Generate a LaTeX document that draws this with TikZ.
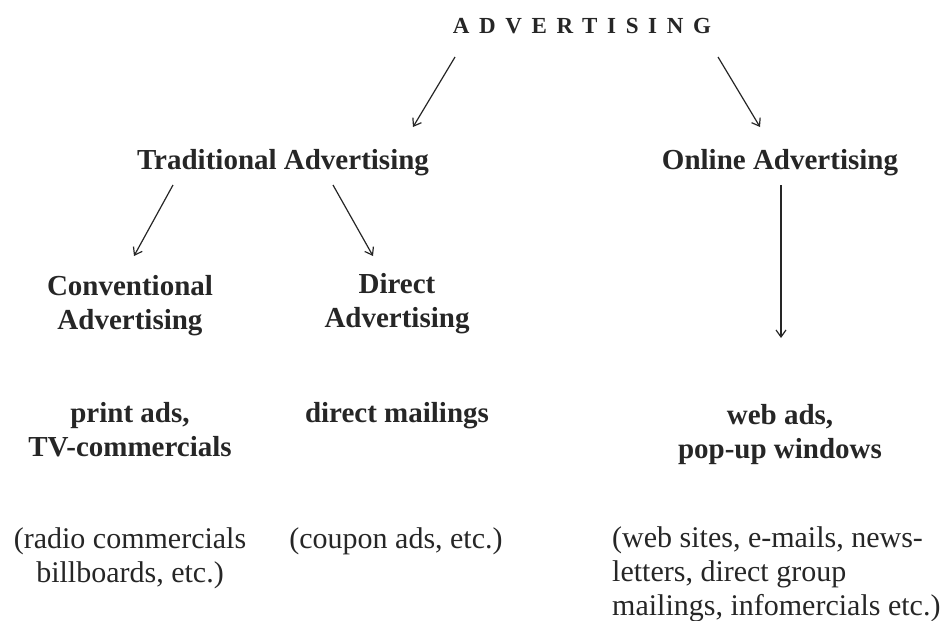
\documentclass[tikz,border=0pt]{standalone}
\usepackage{fontspec}
\setmainfont{Liberation Serif}
\usetikzlibrary{arrows.meta}
\definecolor{ink}{HTML}{262626}
\tikzset{
  lbl/.style={anchor=base, inner sep=0pt, align=center, text=ink,
    font=\bfseries\fontsize{29}{34}\selectfont},
  note/.style={anchor=base, inner sep=0pt, align=center, text=ink,
    font=\fontsize{30}{34}\selectfont},
  arr/.style={draw=ink, line width=1.2pt, -{Straight Barb[length=7pt,width=10pt,line width=1.2pt]}},
}
\begin{document}
\begin{tikzpicture}[x=1pt,y=-1pt]
\useasboundingbox (0,0) rectangle (951,621);
% multi-line nodes: base anchor = baseline of last line
\node[lbl, font=\bfseries\fontsize{23}{24}\selectfont\addfontfeature{LetterSpace=42}] (adv) at (582,34) {ADVERTISING};
\node[lbl] (trad) at (283,169) {Traditional Advertising};
\node[lbl] (online) at (780,169) {Online Advertising};
\node[lbl] (conv) at (130,329) {Conventional\\Advertising};
\node[lbl] (direct) at (397,327) {Direct\\Advertising};
\node[lbl] (print) at (130,456) {print ads,\\TV-commercials};
\node[lbl] (mail) at (397,422) {direct mailings};
\node[lbl] (web) at (780,458) {web ads,\\pop-up windows};
\node[note] (radio) at (130,582) {(radio commercials\\billboards, etc.)};
\node[note] (coupon) at (396,548) {(coupon ads, etc.)};
\node[note, anchor=base west, align=left] (sites) at (612,615) {(web sites, e-mails, news-\\letters, direct group\\mailings, infomercials etc.)};
% arrow endpoints
\coordinate (a1s) at (455,57);  \coordinate (a1e) at (413,127);
\coordinate (a2s) at (718,57);  \coordinate (a2e) at (760,127);
\coordinate (a3s) at (173,185); \coordinate (a3e) at (134,256);
\coordinate (a4s) at (333,185); \coordinate (a4e) at (373,256);
\coordinate (a5s) at (781,185); \coordinate (a5e) at (781,338);
\draw[arr] (a1s) -- (a1e);
\draw[arr] (a2s) -- (a2e);
\draw[arr] (a3s) -- (a3e);
\draw[arr] (a4s) -- (a4e);
\draw[arr] (a5s) -- (a5e);
\end{tikzpicture}
\end{document}
